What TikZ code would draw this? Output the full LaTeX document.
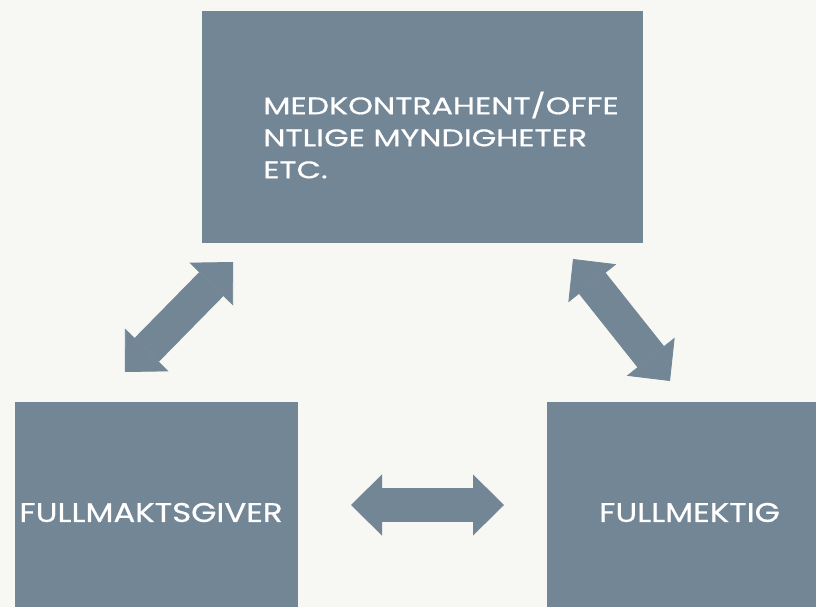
\documentclass[tikz,border=0pt]{standalone}
\usepackage{fontspec}
\setmainfont{Poppins}
\newfontfamily\topfont[FakeStretch=1.32,FakeBold=0.6]{Poppins}
\newfontfamily\bottomfont[FakeStretch=1.2,FakeBold=0.6]{Poppins}
\usetikzlibrary{arrows.meta}
\definecolor{slate}{HTML}{738695}
\definecolor{paper}{HTML}{F7F7F3}

\begin{document}
\begin{tikzpicture}[x=1pt,y=-1pt,
	blockarrow/.style={line width=34pt,draw=slate,
		{Triangle[length=31pt,width=61pt,line width=0.8pt]}-{Triangle[length=31pt,width=61pt,line width=0.8pt]}}]
	\fill[paper] (0,0) rectangle (816,607);
	\useasboundingbox (0,0) rectangle (816,607);
	\clip (0,0) rectangle (816,607);

	\begin{scope}[every node/.style={rectangle,fill=slate,inner sep=0pt}]
		\node (K) at (422.5,127) [minimum width=441pt,minimum height=232pt] {};
		\node (G) at (156.5,504.5) [minimum width=283pt,minimum height=205pt] {};
		\node (M) at (681.5,504.5) [minimum width=269pt,minimum height=205pt] {};
	\end{scope}

	\begin{scope}[every node/.style={text=white,inner sep=0pt}]
		\node (Ktext) at (263,135) [anchor=west,align=left,font=\topfont\fontsize{24}{32}\selectfont]
			{MEDKONTRAHENT/OFFE\\NTLIGE MYNDIGHETER\\ETC.};
		\node (Gtext) at (151,512.5) [font=\bottomfont\fontsize{27}{32}\selectfont] {FULLMAKTSGIVER};
		\node (Mtext) at (689.5,512.5) [font=\bottomfont\fontsize{27}{32}\selectfont] {FULLMEKTIG};
	\end{scope}

	\begin{scope}
		\coordinate (GK1) at (125,372);
		\coordinate (GK2) at (233,262);
		\coordinate (KM1) at (573,259);
		\coordinate (KM2) at (670,381);
		\coordinate (GM1) at (351,505);
		\coordinate (GM2) at (504,505);
		\path (GK1) edge[blockarrow] (GK2);
		\path (KM1) edge[blockarrow] (KM2);
		\path (GM1) edge[blockarrow] (GM2);
	\end{scope}
\end{tikzpicture}
\end{document}
